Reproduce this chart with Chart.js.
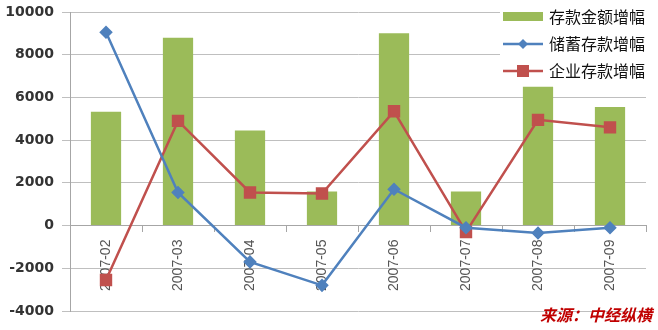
<!DOCTYPE html>
<html>
<head>
<meta charset="utf-8">
<script src="https://cdn.jsdelivr.net/npm/chart.js@4/dist/chart.umd.min.js"></script>
<style>
  html, body { margin: 0; padding: 0; background: #fff; }
  #wrap { width: 658px; height: 330px; position: relative; }
</style>
</head>
<body>
<div id="wrap"><canvas id="chart"></canvas></div>
<script>
// Monthly data, 2007
const months = ['2007-02', '2007-03', '2007-04', '2007-05', '2007-06', '2007-07', '2007-08', '2007-09'];
const totalDeposits = [5330, 8800, 4450, 1600, 9000, 1600, 6500, 5550];
const savingsDeposits = [9050, 1550, -1700, -2800, 1700, -100, -350, -100];
const corporateDeposits = [-2550, 4900, 1550, 1500, 5350, -300, 4950, 4600];
const seriesNames = ['存款金额增幅', '储蓄存款增幅', '企业存款增幅'];
const yTicks = [-4000, -2000, 0, 2000, 4000, 6000, 8000, 10000];

// Legend box drawn over the top right corner of the plot
const cornerLegend = {
    id: 'cornerLegend',
    afterDraw(chart) {
        const ctx = chart.ctx;
        ctx.save();
        ctx.fillStyle = '#ffffff';
        ctx.fillRect(500, 0, 150, 82);
        const rows = [17, 44, 71];
        chart.data.datasets.forEach((ds, i) => {
            const y = rows[i];
            if (ds.type === 'bar') {
                ctx.fillStyle = ds.backgroundColor;
                ctx.fillRect(503, y - 5, 40, 9);
            } else {
                ctx.strokeStyle = ds.borderColor;
                ctx.lineWidth = 2.5;
                ctx.beginPath();
                ctx.moveTo(503, y);
                ctx.lineTo(543, y);
                ctx.stroke();
                ctx.fillStyle = ds.borderColor;
                if (ds.pointStyle === 'rect') {
                    ctx.fillRect(517, y - 6, 12, 12);
                } else {
                    ctx.beginPath();
                    ctx.moveTo(523, y - 5);
                    ctx.lineTo(528, y);
                    ctx.lineTo(523, y + 5);
                    ctx.lineTo(518, y);
                    ctx.closePath();
                    ctx.fill();
                }
            }
            ctx.fillStyle = '#111';
            ctx.font = '16px "Noto Sans CJK SC"';
            ctx.textBaseline = 'middle';
            ctx.textAlign = 'left';
            ctx.fillText(ds.label, 549, y);
        });
        // source note
        ctx.fillStyle = '#c00000';
        ctx.font = 'italic bold 16px "Noto Sans CJK SC"';
        ctx.textAlign = 'right';
        ctx.textBaseline = 'middle';
        ctx.fillText('来源：中经纵横', 652, 315);
        ctx.restore();
    }
};

document.addEventListener('DOMContentLoaded', function () {
    const ctx = document.getElementById('chart').getContext('2d');
    new Chart(ctx, {
        data: {
            labels: months,
            datasets: [
                {
                    type: 'bar',
                    label: seriesNames[0],
                    data: totalDeposits,
                    backgroundColor: '#9bbb59',
                    barPercentage: 0.84,
                    categoryPercentage: 0.5,
                    order: 3
                },
                {
                    type: 'line',
                    label: seriesNames[1],
                    data: savingsDeposits,
                    borderColor: '#4f81bd',
                    backgroundColor: '#4f81bd',
                    borderWidth: 2.5,
                    pointStyle: 'rectRot',
                    pointRadius: 5,
                    tension: 0,
                    order: 1
                },
                {
                    type: 'line',
                    label: seriesNames[2],
                    data: corporateDeposits,
                    borderColor: '#c0504d',
                    backgroundColor: '#c0504d',
                    borderWidth: 2.5,
                    pointStyle: 'rect',
                    pointRadius: 7,
                    tension: 0,
                    order: 2
                }
            ]
        },
        options: {
            responsive: true,
            maintainAspectRatio: false,
            animation: false,
            layout: { padding: { top: 12, right: 12, bottom: 19, left: 0 } },
            plugins: {
                legend: { display: false },
                tooltip: { enabled: false }
            },
            scales: {
                x: {
                    type: 'category',
                    position: { y: 0 },
                    offset: true,
                    grid: {
                        offset: true,
                        drawOnChartArea: false,
                        drawTicks: true,
                        tickLength: 6,
                        color: '#a6a6a6'
                    },
                    border: { color: '#a6a6a6', width: 1 },
                    ticks: {
                        maxRotation: 90,
                        minRotation: 90,
                        padding: 8,
                        color: '#555',
                        font: { family: 'Liberation Sans', size: 14 }
                    }
                },
                y: {
                    min: -4000,
                    max: 10000,
                    afterFit(scale) {
                        scale.width = 70;
                        // let the layout padding alone decide the plot's top and bottom
                        scale.paddingTop = 0;
                        scale.paddingBottom = 0;
                    },
                    afterBuildTicks(scale) { scale.ticks = yTicks.map(v => ({ value: v })); },
                    grid: { color: '#bfbfbf', tickLength: 8 },
                    border: { color: '#a6a6a6' },
                    ticks: {
                        padding: 8,
                        color: '#333',
                        callback: v => String(v),
                        font: { family: 'DejaVu Sans', size: 14, weight: 'bold' }
                    }
                }
            }
        },
        plugins: [cornerLegend]
    });
});
</script>
</body>
</html>
